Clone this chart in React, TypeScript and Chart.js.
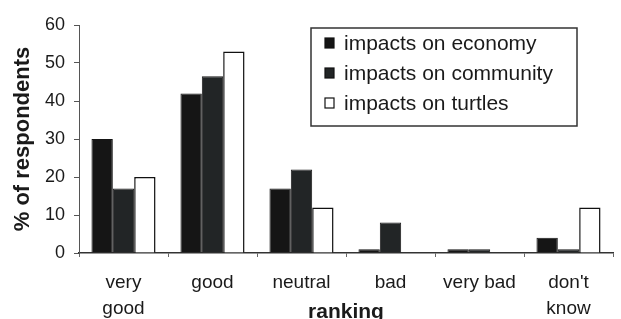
import React, { useEffect, useRef } from "react";
import { Chart, registerables } from "chart.js";

Chart.register(...registerables);

const categories: (string | string[])[] = [["very", "good"], "good", "neutral", "bad", "very bad", ["don't", "know"]];
const seriesNames = ["impacts on economy", "impacts on community", "impacts on turtles"];
const economy = [30, 42, 17, 1, 1, 4];
const community = [17, 46.5, 22, 8, 1, 1];
const turtles = [20, 53, 12, 0, 0, 12];
const yTicks = [0, 10, 20, 30, 40, 50, 60];

const FONT = "'Liberation Sans', Arial, sans-serif";

const legendPlugin = {
  id: "boxLegend",
  afterDraw(chart: any) {
    const { ctx, chartArea } = chart;
    const left = chartArea.left + 232;
    const top = chartArea.top + 3;
    const w = 266;
    const h = 98;
    ctx.save();
    ctx.fillStyle = "#fff";
    ctx.fillRect(left, top, w, h);
    ctx.strokeStyle = "#333";
    ctx.lineWidth = 1.5;
    ctx.strokeRect(left, top, w, h);
    ctx.font = `21px ${FONT}`;
    ctx.textBaseline = "middle";
    chart.data.datasets.forEach((ds: any, i: number) => {
      const cy = top + 15 + i * 30;
      const mx = left + 14;
      ctx.fillStyle = ds.backgroundColor;
      ctx.fillRect(mx, cy - 5, 9, 10);
      ctx.strokeStyle = "#111";
      ctx.lineWidth = 1.2;
      ctx.strokeRect(mx, cy - 5, 9, 10);
      ctx.fillStyle = "#1a1a1a";
      ctx.fillText(ds.label, left + 33, cy + 1);
    });
    ctx.restore();
  },
};

export default function App() {
  const ref = useRef<HTMLCanvasElement>(null);
  useEffect(() => {
    if (!ref.current) return;
    const chart = new Chart(ref.current, {
      type: "bar",
      data: {
        labels: categories,
        datasets: [
          { label: seriesNames[0], data: economy, backgroundColor: "#151515", borderColor: "#151515", borderWidth: 1 },
          { label: seriesNames[1], data: community, backgroundColor: "#222526", borderColor: "#1a1a1a", borderWidth: 1 },
          { label: seriesNames[2], data: turtles, backgroundColor: "#ffffff", borderColor: "#111111", borderWidth: 1.5 },
        ],
      },
      options: {
        animation: false,
        responsive: false,
        maintainAspectRatio: false,
        layout: { padding: { top: 25, right: 8, left: 0, bottom: 0 } },
        datasets: { bar: { categoryPercentage: 0.72, barPercentage: 1 } },
        plugins: { legend: { display: false }, tooltip: { enabled: false } },
        scales: {
          x: {
            grid: { display: true, drawOnChartArea: false, drawTicks: true, tickLength: 4, color: "#666", offset: true },
            border: { display: true, color: "#333", width: 1.5 },
            ticks: { color: "#1a1a1a", font: { family: FONT, size: 19, lineHeight: 1.4 }, padding: 12, maxRotation: 0, autoSkip: false },
            title: { display: true, text: "ranking", color: "#1a1a1a", font: { family: FONT, size: 21, weight: "bold" }, padding: { top: 0, bottom: -6 } },
            afterFit: (s: any) => { s.height = 66; },
          },
          y: {
            min: 0,
            max: 60,
            afterBuildTicks: (s: any) => { s.ticks = yTicks.map((v) => ({ value: v })); },
            grid: { display: true, drawOnChartArea: false, drawTicks: true, tickLength: 5, color: "#555" },
            border: { display: true, color: "#555", width: 1 },
            ticks: { color: "#1a1a1a", font: { family: FONT, size: 18 }, padding: 9 },
            title: { display: true, text: "% of respondents", color: "#1a1a1a", font: { family: FONT, size: 22, weight: "bold" }, padding: { top: 10, bottom: 0 } },
            afterFit: (s: any) => { s.width = 79; },
          },
        },
      },
      plugins: [legendPlugin],
    });
    return () => chart.destroy();
  }, []);
  return (
    <div style={{ position: "fixed", left: 0, top: 0, width: 621, height: 319, background: "#fff" }}>
      <canvas ref={ref} width={621} height={319} style={{ display: "block" }} />
    </div>
  );
}
